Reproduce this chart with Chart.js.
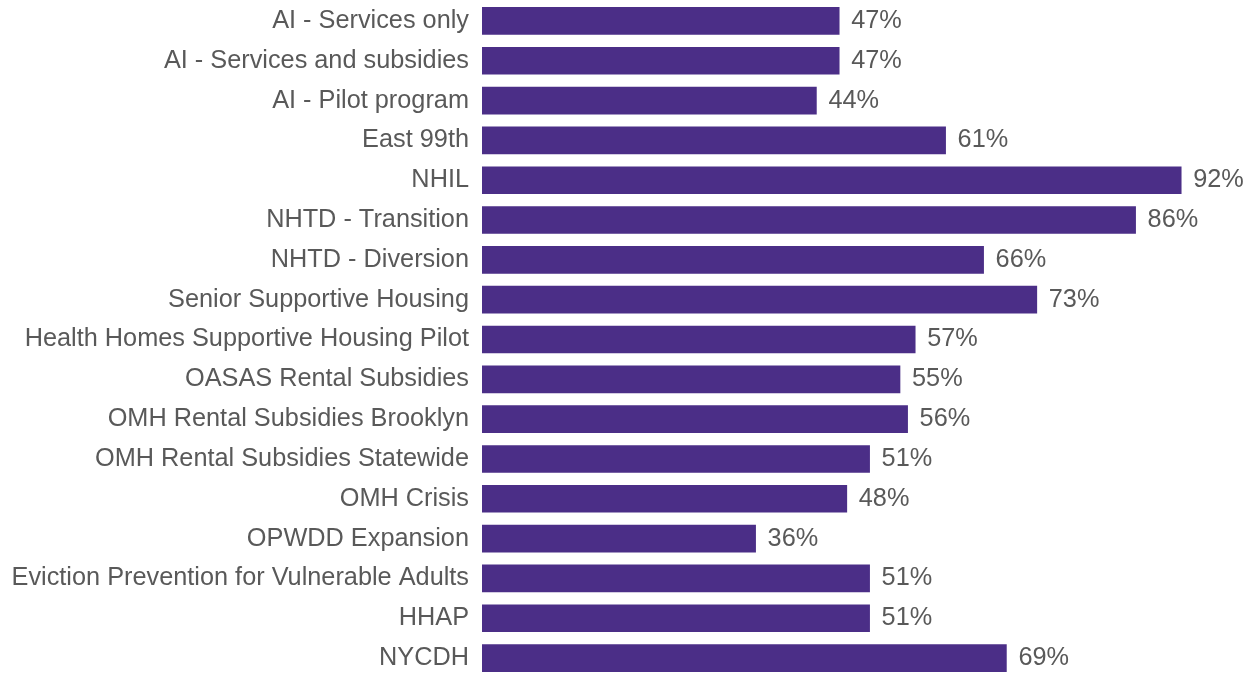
<!DOCTYPE html>
<html>
<head>
<meta charset="utf-8">
<script src="https://cdn.jsdelivr.net/npm/chart.js@4/dist/chart.umd.min.js"></script>
<style>
  html, body { margin: 0; padding: 0; background: #ffffff; overflow: hidden; }
  #wrap { position: relative; width: 1258px; height: 678px; }
</style>
</head>
<body>
<div id="wrap"><canvas id="c"></canvas></div>
<script>
const categories = [
  "AI - Services only",
  "AI - Services and subsidies",
  "AI - Pilot program",
  "East 99th",
  "NHIL",
  "NHTD - Transition",
  "NHTD - Diversion",
  "Senior Supportive Housing",
  "Health Homes Supportive Housing Pilot",
  "OASAS Rental Subsidies",
  "OMH Rental Subsidies Brooklyn",
  "OMH Rental Subsidies Statewide",
  "OMH Crisis",
  "OPWDD Expansion",
  "Eviction Prevention for Vulnerable Adults",
  "HHAP",
  "NYCDH"
];
const values = [47, 47, 44, 61, 92, 86, 66, 73, 57, 55, 56, 51, 48, 36, 51, 51, 69];
const valueLabels = values.map(v => v + "%");

const FONT = "'Liberation Sans', Arial, Helvetica, sans-serif";
const FONT_SIZE = 25.3;
const TEXT_COLOR = "#595959";
const BAR_COLOR = "#4b2e87";

const valueLabelPlugin = {
  id: 'valueLabels',
  afterDatasetsDraw(chart) {
    const ctx = chart.ctx;
    const meta = chart.getDatasetMeta(0);
    ctx.save();
    ctx.font = FONT_SIZE + "px " + FONT;
    ctx.fillStyle = TEXT_COLOR;
    ctx.textAlign = 'left';
    ctx.textBaseline = 'middle';
    meta.data.forEach((bar, i) => {
      ctx.fillText(valueLabels[i], bar.x + 12, bar.y);
    });
    ctx.restore();
  }
};

new Chart(document.getElementById('c'), {
  type: 'bar',
  data: {
    labels: categories,
    datasets: [{
      data: values,
      backgroundColor: BAR_COLOR,
      borderWidth: 0,
      barThickness: 27
    }]
  },
  options: {
    indexAxis: 'y',
    responsive: true,
    maintainAspectRatio: false,
    animation: false,
    layout: { padding: { left: 0, right: 16, top: 1, bottom: 0 } },
    plugins: {
      legend: { display: false },
      tooltip: { enabled: false }
    },
    scales: {
      x: {
        display: false,
        min: 0,
        max: 100
      },
      y: {
        afterFit(scale) {
          scale.width = 482;
          scale.paddingTop = 0;
          scale.paddingBottom = 0;
        },
        grid: { display: false, drawTicks: false },
        border: { display: false },
        ticks: {
          padding: 13,
          color: TEXT_COLOR,
          font: { family: FONT, size: FONT_SIZE }
        }
      }
    }
  },
  plugins: [valueLabelPlugin]
});
</script>
</body>
</html>
